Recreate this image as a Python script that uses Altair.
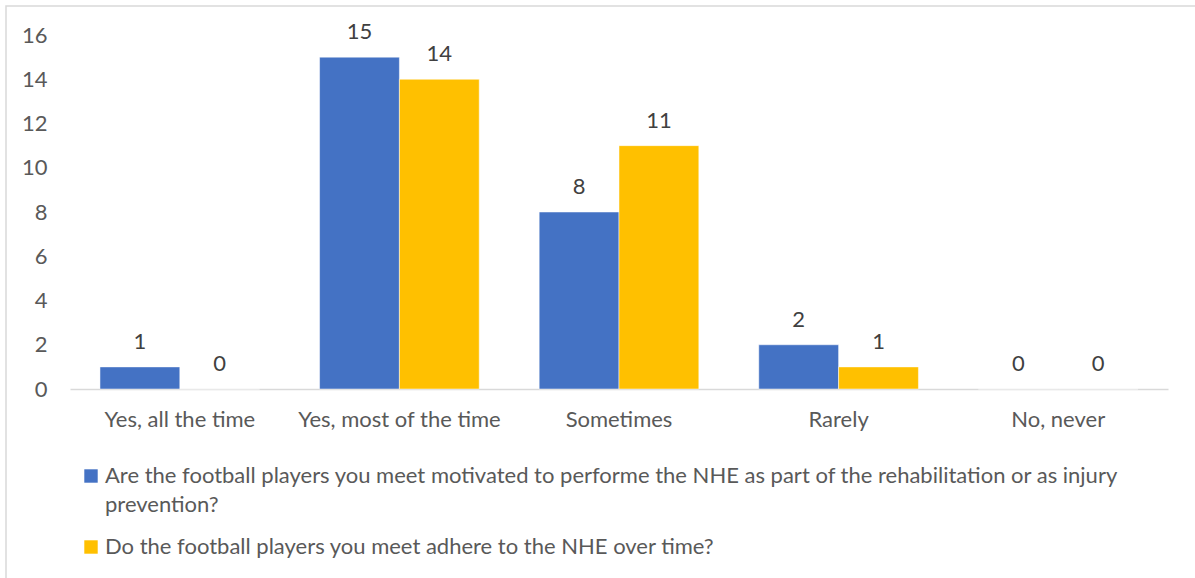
import altair as alt
import pandas as pd

categories = ["Yes, all the time", "Yes, most of the time", "Sometimes", "Rarely", "No, never"]
series = [
    "Are the football players you meet motivated to performe the NHE as part of the rehabilitation or as injury prevention?",
    "Do the football players you meet adhere to the NHE over time?",
]
values_motivated = [1, 15, 8, 2, 0]
values_adhere = [0, 14, 11, 1, 0]
colors = ["#4472C4", "#FFC000"]
y_ticks = [0, 2, 4, 6, 8, 10, 12, 14, 16]

rows = []
for c, a, b in zip(categories, values_motivated, values_adhere):
    rows.append({"category": c, "series": series[0], "value": a})
    rows.append({"category": c, "series": series[1], "value": b})
df = pd.DataFrame(rows)

FONT = "Lato"
FS = 22
TXT = "#595959"

x = alt.X(
    "category:N",
    sort=categories,
    scale=alt.Scale(paddingInner=0.273, paddingOuter=0.1365),
    axis=alt.Axis(
        title=None, labelAngle=0, ticks=False, domainColor="#d9d9d9", domainWidth=1.5,
        labelPadding=20, labelFontSize=FS, labelColor=TXT, labelFont=FONT, labelLimit=0,
    ),
)
y = alt.Y(
    "value:Q",
    scale=alt.Scale(domain=[0, 16]),
    axis=alt.Axis(
        title=None, values=y_ticks, grid=False, domain=False, ticks=False,
        labelPadding=23, labelFontSize=FS, labelColor=TXT, labelFont=FONT,
    ),
)
xoff = alt.XOffset("series:N", sort=series)

label_expr = (
    "datum.label == '" + series[0] + "' ? "
    "['Are the football players you meet motivated to performe the NHE as part of the rehabilitation or as injury', 'prevention?'] "
    ": datum.label"
)

color = alt.Color(
    "series:N",
    scale=alt.Scale(domain=series, range=colors),
    legend=alt.Legend(
        title=None, orient="none", legendX=10, legendY=430, direction="vertical",
        symbolType="square", symbolSize=180, symbolStrokeWidth=0, labelFontSize=FS,
        labelFont=FONT, labelColor=TXT, labelLimit=0, labelOffset=3, rowPadding=20,
        padding=0, labelExpr=label_expr,
    ),
)

bars = alt.Chart(df).mark_bar(stroke="white", strokeWidth=0.5).encode(
    x=x, y=y, xOffset=xoff, color=color
)
labels = alt.Chart(df).mark_text(
    dy=-18, baseline="alphabetic", fontSize=FS, color="#404040", font=FONT
).encode(x=x, y=y, xOffset=xoff, text="value:Q")

border = alt.Chart(pd.DataFrame({"k": [0]})).mark_rect(
    fill="white", fillOpacity=0, stroke="#d9d9d9", strokeWidth=1.5
).encode(x=alt.value(-64), x2=alt.value(1200), y=alt.value(-29), y2=alt.value(600))

chart = (
    alt.layer(border, bars, labels)
    .properties(
        width=1098, height=354, autosize=alt.AutoSizeParams(type="none"),
        padding={"left": 70, "top": 35, "right": 27, "bottom": 189},
        background="white",
    )
    .configure(style={"guide-label": {"lineHeight": 29}})
    .configure_view(strokeWidth=0)
)

chart.save("out.html", embed_options={"renderer": "svg", "actions": False})
